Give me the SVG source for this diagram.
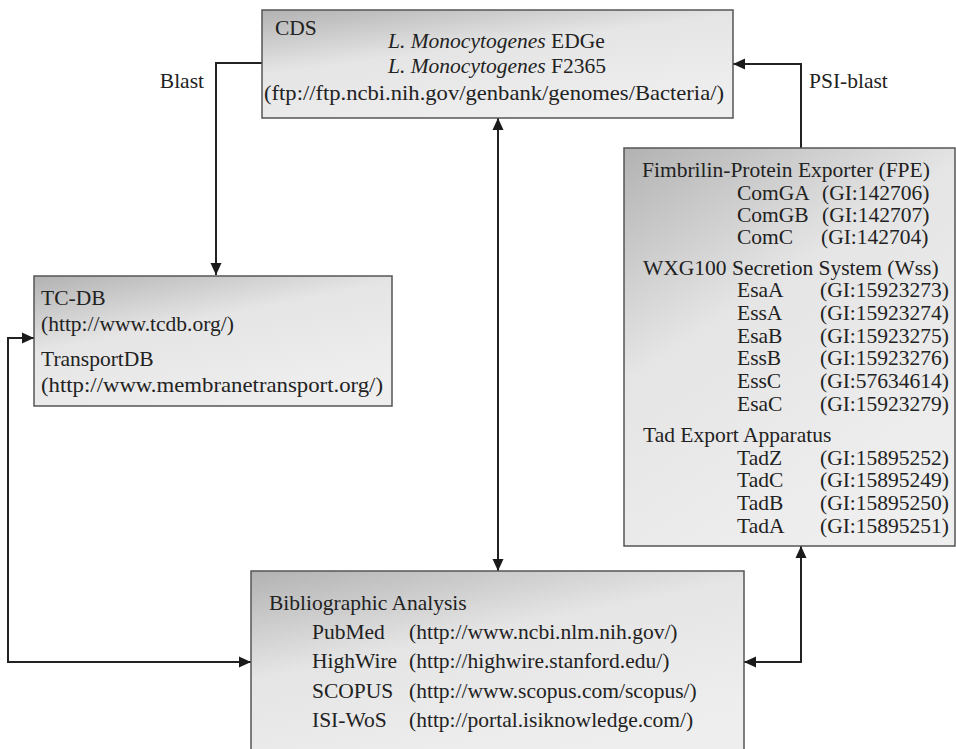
<svg xmlns="http://www.w3.org/2000/svg" width="956" height="749" viewBox="0 0 956 749">
<defs>
<linearGradient id="g" x1="0" y1="0" x2="0.55" y2="1">
<stop offset="0" stop-color="#b2b2b2"/>
<stop offset="0.45" stop-color="#e5e5e5"/>
<stop offset="1" stop-color="#eeeeee"/>
</linearGradient>
<marker id="ah" markerUnits="userSpaceOnUse" markerWidth="12" markerHeight="12" refX="12" refY="6" orient="auto-start-reverse">
<path d="M0,0.5 L12,6 L0,11.5 z" fill="#1a1a1a"/>
</marker>
</defs>
<style>
text{font-family:"Liberation Serif","Times New Roman",serif;font-size:21.5px;fill:#222}
.box{fill:url(#g);stroke:#555;stroke-width:1.5}
.c{fill:none;stroke:#222;stroke-width:2}
</style>
<rect width="956" height="749" fill="#fff"/>
<g id="connectors">
<path class="c" d="M262,63 H216 V275" marker-end="url(#ah)"/>
<path class="c" d="M251,662 H8 V338 H34" marker-start="url(#ah)" marker-end="url(#ah)"/>
<path class="c" d="M498,118 V571" marker-start="url(#ah)" marker-end="url(#ah)"/>
<path class="c" d="M801,148 V64 H733" marker-end="url(#ah)"/>
<path class="c" d="M801,546 V662 H744" marker-start="url(#ah)" marker-end="url(#ah)"/>
<text x="204" y="88" text-anchor="end">Blast</text>
<text x="809" y="88">PSI-blast</text>
</g>
<g id="cds">
<rect class="box" x="262" y="10" width="471" height="108"/>
<text x="275" y="35">CDS</text>
<text x="388" y="48"><tspan font-style="italic">L. Monocytogenes</tspan> EDGe</text>
<text x="388" y="73"><tspan font-style="italic">L. Monocytogenes</tspan> F2365</text>
<text x="264" y="100" textLength="460" lengthAdjust="spacingAndGlyphs">(ftp://ftp.ncbi.nih.gov/genbank/genomes/Bacteria/)</text>
</g>
<g id="tcdb">
<rect class="box" x="34" y="276" width="358" height="130"/>
<text x="41" y="305">TC-DB</text>
<text x="41" y="331">(http://www.tcdb.org/)</text>
<text x="41" y="366">TransportDB</text>
<text x="41" y="392" textLength="342" lengthAdjust="spacingAndGlyphs">(http://www.membranetransport.org/)</text>
</g>
<g id="fpe">
<rect class="box" x="624" y="148" width="331" height="398"/>
<text x="642" y="177">Fimbrilin-Protein Exporter (FPE)</text>
<text x="737" y="200">ComGA</text><text x="822" y="200">(GI:142706)</text>
<text x="737" y="222">ComGB</text><text x="822" y="222">(GI:142707)</text>
<text x="737" y="244">ComC</text><text x="821" y="244">(GI:142704)</text>
<text x="643" y="275">WXG100 Secretion System (Wss)</text>
<text x="737" y="297">EsaA</text><text x="820" y="297">(GI:15923273)</text>
<text x="737" y="320">EssA</text><text x="820" y="320">(GI:15923274)</text>
<text x="737" y="343">EsaB</text><text x="820" y="343">(GI:15923275)</text>
<text x="737" y="365">EssB</text><text x="820" y="365">(GI:15923276)</text>
<text x="737" y="388">EssC</text><text x="820" y="388">(GI:57634614)</text>
<text x="737" y="411">EsaC</text><text x="820" y="411">(GI:15923279)</text>
<text x="643" y="442">Tad Export Apparatus</text>
<text x="737" y="465">TadZ</text><text x="820" y="465">(GI:15895252)</text>
<text x="737" y="487">TadC</text><text x="820" y="487">(GI:15895249)</text>
<text x="737" y="510">TadB</text><text x="820" y="510">(GI:15895250)</text>
<text x="737" y="533">TadA</text><text x="820" y="533">(GI:15895251)</text>
</g>
<g id="biblio">
<rect class="box" x="251" y="571" width="493" height="185"/>
<text x="269" y="610">Bibliographic Analysis</text>
<text x="312" y="639">PubMed</text><text x="409" y="639">(http://www.ncbi.nlm.nih.gov/)</text>
<text x="312" y="668">HighWire</text><text x="409" y="668">(http://highwire.stanford.edu/)</text>
<text x="312" y="698">SCOPUS</text><text x="409" y="698">(http://www.scopus.com/scopus/)</text>
<text x="312" y="727">ISI-WoS</text><text x="409" y="727">(http://portal.isiknowledge.com/)</text>
</g>
</svg>
